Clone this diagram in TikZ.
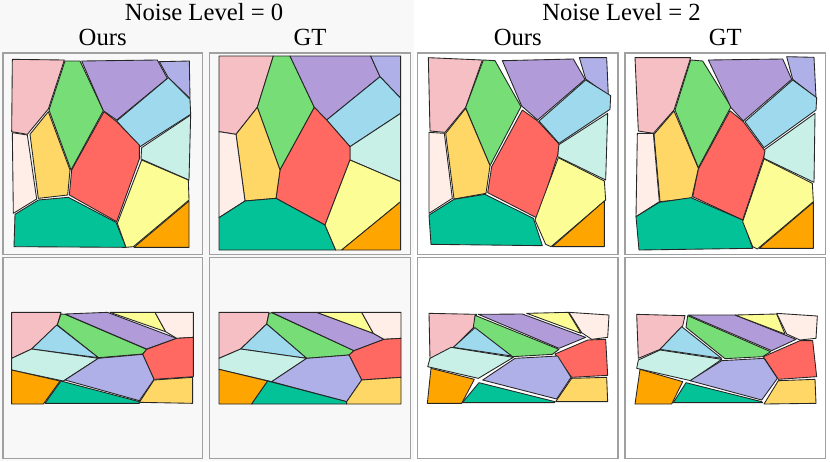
\documentclass[tikz,border=0pt]{standalone}
\usepackage{fontspec}
\setmainfont{Liberation Serif}
\definecolor{bgL}{HTML}{F8F8F8}
\definecolor{frameC}{HTML}{A0A0A0}
\definecolor{pinkc}{HTML}{F5BFC3}
\definecolor{greenc}{HTML}{77DD77}
\definecolor{purplec}{HTML}{B19CD9}
\definecolor{lavc}{HTML}{B0B0E8}
\definecolor{bluec}{HTML}{9ED9EE}
\definecolor{mintc}{HTML}{C8F0E6}
\definecolor{redc}{HTML}{FF6961}
\definecolor{lorangec}{HTML}{FFD766}
\definecolor{creamc}{HTML}{FFEDE8}
\definecolor{tealc}{HTML}{03C298}
\definecolor{yellowc}{HTML}{FDFD96}
\definecolor{orangec}{HTML}{FFA500}
\tikzset{
  panelbox/.style={draw=frameC, line width=0.9pt},
  piece/.style={draw=black!85, line width=0.65pt, line join=round},
  zoomat/.style 2 args={shift={({#1*0.75pt},{-#2*0.75pt})}, x=0.25pt, y=-0.25pt},
  title/.style={font=\fontsize{18.5}{20}\selectfont, anchor=base, inner sep=0pt},
}
\newcommand\pc[2]{\filldraw[piece, fill=#1] #2 -- cycle;}
\begin{document}
\begin{tikzpicture}[x=0.75pt, y=-0.75pt]
\useasboundingbox (0,0) rectangle (830,461);
\fill[white] (0,0) rectangle (830,461);
\fill[bgL] (0,0) rectangle (414,461);
% titles
\node[title] (t0) at (204,20.5) {Noise Level = 0};
\node[title] (t2) at (621.5,20.5) {Noise Level = 2};
\node[title] (o0) at (102.7,45.8) {Ours};
\node[title] (g0) at (310,45.8) {GT};
\node[title] (o2) at (517.8,45.8) {Ours};
\node[title] (g2) at (725.2,45.8) {GT};
% panels
\draw[panelbox, fill=bgL] (3,53) rectangle (202.5,254.5);
\draw[panelbox, fill=bgL] (209.5,53) rectangle (410.5,254.5);
\draw[panelbox, fill=white] (417.5,53) rectangle (618,254.5);
\draw[panelbox, fill=white] (625,53) rectangle (825.5,254.5);
\draw[panelbox, fill=bgL] (3,257.8) rectangle (202.5,458.3);
\draw[panelbox, fill=bgL] (209.5,257.8) rectangle (410.5,458.3);
\draw[panelbox, fill=white] (417.5,257.8) rectangle (618,458.3);
\draw[panelbox, fill=white] (625,257.8) rectangle (825.5,458.3);

% ---------- Panel 1: Ours, noise 0, top ----------
\begin{scope}[zoomat={0}{45}]
\pc{pinkc}{(37,43) -- (193,45) -- (145,192) -- (82,268) -- (35,260)}
\pc{greenc}{(195,48) -- (240,48) -- (310,197) -- (213,375) -- (147,195)}
\pc{purplec}{(245,48) -- (472,45) -- (502,100) -- (350,225) -- (310,197)}
\pc{lavc}{(478,50) -- (568,48) -- (570,160) -- (505,98)}
\pc{bluec}{(505,98) -- (570,163) -- (572,208) -- (420,305) -- (350,228)}
\pc{mintc}{(425,308) -- (572,210) -- (567,405) -- (423,342)}
\pc{redc}{(312,200) -- (350,230) -- (418,300) -- (418,342) -- (350,530) -- (208,450) -- (215,375)}
\pc{lorangec}{(145,200) -- (210,375) -- (203,450) -- (115,460) -- (90,268)}
\pc{creamc}{(37,263) -- (82,270) -- (110,462) -- (40,505)}
\pc{tealc}{(45,508) -- (115,465) -- (205,457) -- (348,532) -- (378,607) -- (42,605)}
\pc{yellowc}{(425,345) -- (565,405) -- (567,465) -- (400,605) -- (378,607) -- (352,535)}
\pc{orangec}{(567,468) -- (567,607) -- (402,607)}
\end{scope}

% ---------- Panel 2: GT, noise 0, top ----------
\begin{scope}[zoomat={205}{45}]
\pc{pinkc}{(42,33) -- (205,33) -- (157,187) -- (93,268) -- (42,260)}
\pc{greenc}{(205,33) -- (255,33) -- (328,187) -- (225,375) -- (157,187)}
\pc{purplec}{(255,33) -- (497,33) -- (525,95) -- (365,225) -- (328,187)}
\pc{lavc}{(497,33) -- (587,33) -- (587,160) -- (525,95)}
\pc{bluec}{(525,95) -- (587,160) -- (587,205) -- (435,305) -- (365,225)}
\pc{mintc}{(435,305) -- (587,205) -- (587,410) -- (435,345)}
\pc{redc}{(328,187) -- (365,225) -- (435,305) -- (435,345) -- (360,540) -- (213,460) -- (225,375)}
\pc{lorangec}{(157,187) -- (225,375) -- (213,460) -- (120,468) -- (93,268)}
\pc{creamc}{(42,260) -- (93,268) -- (120,468) -- (42,518)}
\pc{tealc}{(42,518) -- (120,468) -- (213,460) -- (360,540) -- (392,615) -- (42,615)}
\pc{yellowc}{(435,345) -- (587,410) -- (587,470) -- (410,615) -- (392,615) -- (360,540)}
\pc{orangec}{(587,470) -- (587,615) -- (410,615)}
\end{scope}

% ---------- Panel 3: Ours, noise 2, top ----------
\begin{scope}[zoomat={415}{45}]
\pc{pinkc}{(40,38) -- (202,45) -- (152,187) -- (90,262) -- (45,258)}
\pc{greenc}{(205,45) -- (240,47) -- (318,185) -- (225,362) -- (152,188)}
\pc{purplec}{(262,47) -- (475,42) -- (510,103) -- (368,225) -- (320,183)}
\pc{lavc}{(493,38) -- (575,38) -- (580,152) -- (512,102)}
\pc{bluec}{(512,105) -- (587,152) -- (585,193) -- (432,295) -- (372,228)}
\pc{mintc}{(430,300) -- (578,205) -- (572,405) -- (428,335)}
\pc{redc}{(322,195) -- (368,228) -- (432,297) -- (428,330) -- (368,520) -- (218,443) -- (230,365)}
\pc{lorangec}{(152,190) -- (225,362) -- (213,445) -- (117,462) -- (92,265)}
\pc{creamc}{(42,262) -- (88,265) -- (112,460) -- (42,505)}
\pc{tealc}{(42,510) -- (117,463) -- (210,448) -- (355,520) -- (382,602) -- (48,598)}
\pc{yellowc}{(430,338) -- (568,408) -- (572,465) -- (408,605) -- (392,598) -- (360,525)}
\pc{orangec}{(568,468) -- (568,605) -- (412,605)}
\end{scope}

% ---------- Panel 4: GT, noise 2, top ----------
\begin{scope}[zoomat={620}{45}]
\pc{pinkc}{(45,38) -- (212,38) -- (162,195) -- (100,265) -- (55,258)}
\pc{greenc}{(212,45) -- (248,48) -- (333,185) -- (235,368) -- (165,195)}
\pc{purplec}{(265,45) -- (488,42) -- (515,103) -- (370,228) -- (333,188)}
\pc{lavc}{(500,35) -- (582,37) -- (588,158) -- (518,103)}
\pc{bluec}{(518,105) -- (590,158) -- (588,195) -- (432,308) -- (375,230)}
\pc{mintc}{(432,315) -- (585,205) -- (582,412) -- (432,340)}
\pc{redc}{(330,197) -- (370,230) -- (435,318) -- (430,340) -- (368,525) -- (218,455) -- (235,372)}
\pc{lorangec}{(162,198) -- (235,370) -- (215,460) -- (120,470) -- (102,268)}
\pc{creamc}{(52,265) -- (100,265) -- (118,470) -- (48,515)}
\pc{tealc}{(48,515) -- (118,472) -- (213,458) -- (368,525) -- (398,610) -- (57,615)}
\pc{yellowc}{(432,342) -- (577,415) -- (580,470) -- (412,612) -- (398,605) -- (368,530)}
\pc{orangec}{(580,472) -- (580,610) -- (418,610)}
\end{scope}

% ---------- Panel 5: Ours, noise 0, bottom ----------
\begin{scope}[zoomat={0}{250}]
\pc{pinkc}{(35,187) -- (183,187) -- (172,225) -- (95,297) -- (35,325)}
\pc{greenc}{(183,192) -- (172,225) -- (295,323) -- (428,312) -- (440,298) -- (195,193)}
\pc{purplec}{(195,192) -- (322,187) -- (530,265) -- (440,297)}
\pc{yellowc}{(330,187) -- (465,187) -- (497,245)}
\pc{creamc}{(465,187) -- (580,187) -- (580,262) -- (530,265) -- (497,245)}
\pc{redc}{(530,265) -- (580,262) -- (580,380) -- (462,388) -- (428,313) -- (440,298)}
\pc{bluec}{(170,225) -- (295,323) -- (95,297)}
\pc{mintc}{(35,325) -- (95,297) -- (295,325) -- (190,393) -- (35,360)}
\pc{lavc}{(295,325) -- (428,313) -- (462,388) -- (418,452) -- (195,390)}
\pc{orangec}{(35,360) -- (180,393) -- (130,462) -- (35,462)}
\pc{tealc}{(183,393) -- (418,455) -- (418,460) -- (135,460)}
\pc{lorangec}{(462,390) -- (578,382) -- (578,460) -- (418,457)}
\end{scope}

% ---------- Panel 6: GT, noise 0, bottom ----------
\begin{scope}[zoomat={205}{250}]
\pc{pinkc}{(42,187) -- (192,187) -- (185,222) -- (107,297) -- (42,325)}
\pc{greenc}{(192,190) -- (185,222) -- (305,325) -- (432,315) -- (447,302) -- (200,188)}
\pc{purplec}{(200,187) -- (335,187) -- (505,250) -- (537,268) -- (447,302)}
\pc{yellowc}{(335,187) -- (470,187) -- (505,250)}
\pc{creamc}{(470,187) -- (588,187) -- (588,265) -- (537,268) -- (505,250)}
\pc{redc}{(537,268) -- (588,265) -- (588,382) -- (470,390) -- (432,315) -- (447,302)}
\pc{bluec}{(185,222) -- (305,325) -- (107,297)}
\pc{mintc}{(42,325) -- (107,297) -- (305,325) -- (200,395) -- (42,358)}
\pc{lavc}{(305,325) -- (432,315) -- (470,390) -- (425,455) -- (200,395)}
\pc{orangec}{(42,358) -- (188,393) -- (140,462) -- (42,462)}
\pc{tealc}{(188,393) -- (425,455) -- (425,462) -- (140,462)}
\pc{lorangec}{(470,390) -- (588,382) -- (588,462) -- (425,462) -- (425,455)}
\end{scope}

% ---------- Panel 7: Ours, noise 2, bottom ----------
\begin{scope}[zoomat={415}{250}]
\pc{pinkc}{(42,190) -- (185,193) -- (175,233) -- (118,290) -- (45,328)}
\pc{greenc}{(180,196) -- (175,232) -- (292,320) -- (412,313) -- (432,298)}
\pc{purplec}{(190,193) -- (322,192) -- (512,262) -- (432,295)}
\pc{yellowc}{(335,190) -- (460,187) -- (498,250)}
\pc{creamc}{(462,187) -- (582,195) -- (578,262) -- (530,268) -- (500,248)}
\pc{redc}{(420,312) -- (518,270) -- (572,268) -- (578,376) -- (470,382)}
\pc{bluec}{(180,233) -- (290,318) -- (115,292)}
\pc{mintc}{(45,325) -- (108,292) -- (295,322) -- (190,385) -- (38,350)}
\pc{lavc}{(300,325) -- (428,318) -- (468,382) -- (425,447) -- (203,390)}
\pc{orangec}{(48,355) -- (178,388) -- (140,460) -- (37,460)}
\pc{tealc}{(192,398) -- (420,455) -- (418,458) -- (142,458)}
\pc{lorangec}{(470,385) -- (575,382) -- (578,455) -- (422,455)}
\end{scope}

% ---------- Panel 8: GT, noise 2, bottom ----------
\begin{scope}[zoomat={620}{250}]
\pc{pinkc}{(50,193) -- (195,197) -- (188,228) -- (120,298) -- (55,325)}
\pc{greenc}{(203,197) -- (198,232) -- (315,326) -- (428,320) -- (452,305)}
\pc{purplec}{(205,195) -- (345,195) -- (528,268) -- (455,302)}
\pc{yellowc}{(345,195) -- (470,192) -- (495,252)}
\pc{creamc}{(470,190) -- (592,198) -- (588,265) -- (540,270) -- (500,252)}
\pc{redc}{(430,320) -- (540,272) -- (578,272) -- (590,380) -- (475,388)}
\pc{bluec}{(185,230) -- (305,325) -- (120,298)}
\pc{mintc}{(55,330) -- (120,300) -- (305,328) -- (212,392) -- (50,355)}
\pc{lavc}{(305,332) -- (432,325) -- (472,385) -- (425,450) -- (210,392)}
\pc{orangec}{(60,358) -- (188,395) -- (155,462) -- (45,462)}
\pc{tealc}{(198,398) -- (425,455) -- (428,458) -- (160,458)}
\pc{lorangec}{(475,392) -- (585,388) -- (588,460) -- (432,462)}
\end{scope}
\end{tikzpicture}
\end{document}
